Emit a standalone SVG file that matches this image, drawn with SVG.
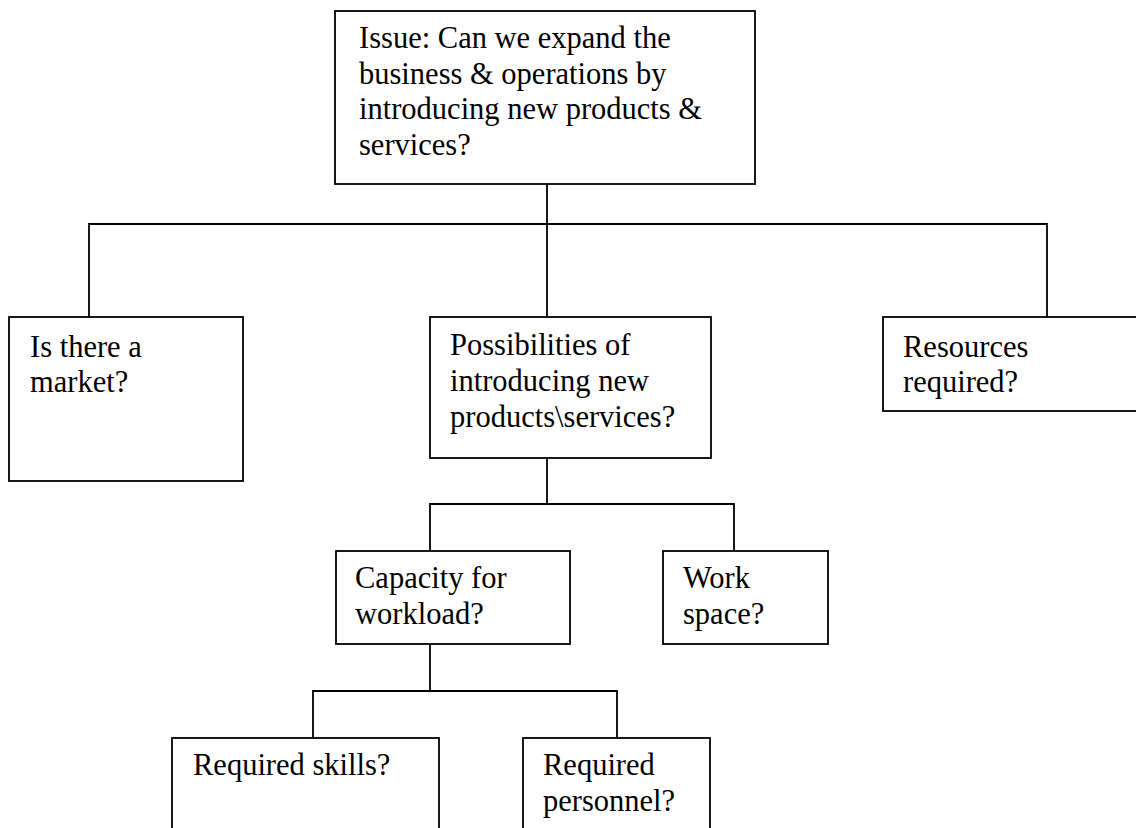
<svg xmlns="http://www.w3.org/2000/svg" width="1136" height="828" viewBox="0 0 1136 828">
  <style>
    .box { fill: #ffffff; stroke: #000000; stroke-width: 1.8; }
    .wire { fill: none; stroke: #000000; stroke-width: 1.8; }
    .label { font-family: "Liberation Serif", "Times New Roman", serif; font-size: 30.5px; fill: #000000; }
  </style>
  <rect x="0" y="0" width="1136" height="828" fill="#ffffff"/>

  <!-- tree connectors -->
  <g id="connectors">
    <path class="wire" d="M547 184 V317"/>
    <path class="wire" d="M89 317 V224 H1047 V317"/>
    <path class="wire" d="M547 458 V504"/>
    <path class="wire" d="M430 551 V504 H734 V551"/>
    <path class="wire" d="M430 644 V691"/>
    <path class="wire" d="M313 738 V691 H617 V738"/>
  </g>

  <g id="issue">
    <rect class="box" x="335" y="11" width="420" height="173"/>
    <text class="label" x="359" y="48">Issue: Can we expand the</text>
    <text class="label" x="359" y="84">business &amp; operations by</text>
    <text class="label" x="359" y="119">introducing new products &amp;</text>
    <text class="label" x="359" y="155">services?</text>
  </g>

  <g id="market">
    <rect class="box" x="9" y="317" width="234" height="164"/>
    <text class="label" x="30" y="357">Is there a</text>
    <text class="label" x="30" y="392">market?</text>
  </g>

  <g id="possibilities">
    <rect class="box" x="430" y="317" width="281" height="141"/>
    <text class="label" x="450" y="355">Possibilities of</text>
    <text class="label" x="450" y="391">introducing new</text>
    <text class="label" x="450" y="427">products\services?</text>
  </g>

  <g id="resources">
    <rect class="box" x="883" y="317" width="270" height="94"/>
    <text class="label" x="903" y="357">Resources</text>
    <text class="label" x="903" y="392">required?</text>
  </g>

  <g id="capacity">
    <rect class="box" x="336" y="551" width="234" height="93"/>
    <text class="label" x="355" y="588">Capacity for</text>
    <text class="label" x="355" y="624">workload?</text>
  </g>

  <g id="workspace">
    <rect class="box" x="663" y="551" width="165" height="93"/>
    <text class="label" x="683" y="588">Work</text>
    <text class="label" x="683" y="624">space?</text>
  </g>

  <g id="skills">
    <rect class="box" x="172" y="738" width="267" height="110"/>
    <text class="label" x="193" y="775">Required skills?</text>
  </g>

  <g id="personnel">
    <rect class="box" x="523" y="738" width="187" height="110"/>
    <text class="label" x="543" y="775">Required</text>
    <text class="label" x="543" y="811">personnel?</text>
  </g>
</svg>
